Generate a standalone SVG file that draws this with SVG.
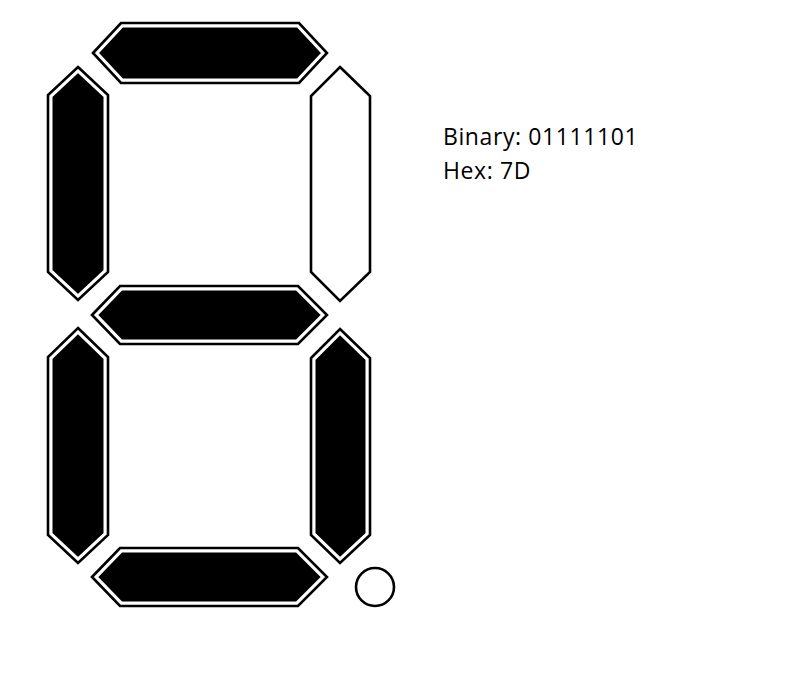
<svg xmlns="http://www.w3.org/2000/svg" width="805" height="691" viewBox="0 0 805 691">
<style>
.on{fill:#000;stroke:#fff;stroke-width:9;stroke-linejoin:miter}
.ol{fill:none;stroke:#000;stroke-width:2.6;stroke-linejoin:miter}
.off{fill:#fff;stroke:#000;stroke-width:2.6;stroke-linejoin:miter}
.t{font-family:"Open Sans","Liberation Sans",sans-serif;font-size:23px;letter-spacing:0.6px;fill:#000}
</style>
<rect width="805" height="691" fill="#fff"/>
<g id="seg-a">
<polygon class="on" points="93,53 121,23 299,23 327,53 299,83 121,83"/>
<polygon class="ol" points="93,53 121,23 299,23 327,53 299,83 121,83"/>
</g>
<g id="seg-b">
<polygon class="off" points="340,67 370,96 370,272 340,301 311,272 311,96"/>
</g>
<g id="seg-f">
<polygon class="on" points="78,67 108,95 108,272 78,300 48,272 48,95"/>
<polygon class="ol" points="78,67 108,95 108,272 78,300 48,272 48,95"/>
</g>
<g id="seg-g">
<polygon class="on" points="92,315 120,286 298,286 327,315 298,344 120,344"/>
<polygon class="ol" points="92,315 120,286 298,286 327,315 298,344 120,344"/>
</g>
<g id="seg-e">
<polygon class="on" points="78,328 108,357 108,535 78,563 48,535 48,357"/>
<polygon class="ol" points="78,328 108,357 108,535 78,563 48,535 48,357"/>
</g>
<g id="seg-c">
<polygon class="on" points="340,329 370,358 370,535 340,563 311,535 311,358"/>
<polygon class="ol" points="340,329 370,358 370,535 340,563 311,535 311,358"/>
</g>
<g id="seg-d">
<polygon class="on" points="92,577 120,548 298,548 327,577 298,606 120,606"/>
<polygon class="ol" points="92,577 120,548 298,548 327,577 298,606 120,606"/>
</g>
<g id="dp">
<circle cx="375" cy="587" r="19" class="off"/>
</g>
<g id="labels">
<text class="t" x="443" y="145">Binary: 01111101</text>
<text class="t" x="443" y="179">Hex: 7D</text>
</g>
</svg>
